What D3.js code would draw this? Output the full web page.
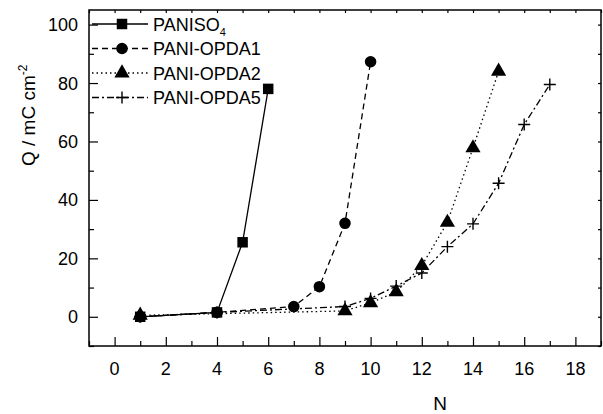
<!DOCTYPE html>
<html>
<head>
<meta charset="utf-8">
<script src="https://cdn.jsdelivr.net/npm/d3@7"></script>
<style>
    body { margin: 0; background: #fff; }
    svg text { font-family: Arial, "Liberation Sans", sans-serif; fill: #000; }
</style>
</head>
<body>
<div id="chart"></div>
<script>
'use strict';

// Values.
var nPaniso4 = [1, 4, 5, 6],
    qPaniso4 = [0, 1.5, 25.5, 78];

var nOpda1 = [1, 4, 7, 8, 9, 10],
    qOpda1 = [0, 1.5, 3.5, 10.3, 32, 87.3];

var nOpda2 = [1, 9, 10, 11, 12, 13, 14, 15],
    qOpda2 = [0.5, 2, 4.8, 8.5, 17.5, 32.3, 57.8, 84];

var nOpda5 = [1, 4, 9, 10, 11, 12, 13, 14, 15, 16, 17],
    qOpda5 = [0, 1.5, 3.5, 6.3, 10.5, 15, 24, 31.8, 45.7, 65.8, 79.5];

var xTicks = [0, 2, 4, 6, 8, 10, 12, 14, 16, 18],
    yTicks = [0, 20, 40, 60, 80, 100];

var series = [
    {name: 'PANISO', sub: '4', n: nPaniso4, q: qPaniso4, dash: null, marker: 'square'},
    {name: 'PANI-OPDA1', sub: null, n: nOpda1, q: qOpda1, dash: '6,4', marker: 'circle'},
    {name: 'PANI-OPDA2', sub: null, n: nOpda2, q: qOpda2, dash: '1.5,3', marker: 'triangle'},
    {name: 'PANI-OPDA5', sub: null, n: nOpda5, q: qOpda5, dash: '7,3,2,3', marker: 'plus'}
];

var width  = 603,
    height = 414,
    frame  = {left: 89, right: 601, top: 10, bottom: 346};

var svg = d3.select('#chart').append('svg')
    .attr('width', width)
    .attr('height', height);

var x = d3.scaleLinear().domain([-1, 19]).range([frame.left, frame.right]),
    y = d3.scaleLinear().domain([-10, 105]).range([frame.bottom, frame.top]);

// Ticks point inwards; minor ones in between the labelled ones.
var xMinor = d3.range(-1, 20, 1).filter(function (d) { return xTicks.indexOf(d) < 0; }),
    yMinor = d3.range(-10, 106, 10).filter(function (d) { return yTicks.indexOf(d) < 0; });

function axis(gen, scale, values, size, transform) {
    svg.append('g')
        .attr('transform', transform)
        .call(gen(scale).tickValues(values).tickSize(size).tickFormat(''))
        .call(function (g) {
            g.select('.domain').remove();
            g.selectAll('line').attr('stroke', '#000').attr('stroke-width', 1.2);
        });
}

axis(d3.axisBottom, x, xTicks, -9, 'translate(0,' + frame.bottom + ')');
axis(d3.axisBottom, x, xMinor, -5, 'translate(0,' + frame.bottom + ')');
axis(d3.axisLeft, y, yTicks, -9, 'translate(' + frame.left + ',0)');
axis(d3.axisLeft, y, yMinor, -5, 'translate(' + frame.left + ',0)');
// Mirrored short ticks on top and right.
axis(d3.axisTop, x, xTicks.concat(xMinor), -3, 'translate(0,' + frame.top + ')');
axis(d3.axisRight, y, yTicks.concat(yMinor), -3, 'translate(' + frame.right + ',0)');

svg.append('rect')
    .attr('x', frame.left)
    .attr('y', frame.top)
    .attr('width', frame.right - frame.left)
    .attr('height', frame.bottom - frame.top)
    .attr('fill', 'none')
    .attr('stroke', '#000')
    .attr('stroke-width', 1.5);

// Tick labels.
svg.append('g').selectAll('text')
    .data(xTicks)
    .enter().append('text')
    .attr('x', function (d) { return x(d); })
    .attr('y', frame.bottom + 29)
    .attr('text-anchor', 'middle')
    .style('font-size', '18px')
    .text(function (d) { return d; });

svg.append('g').selectAll('text')
    .data(yTicks)
    .enter().append('text')
    .attr('x', frame.left - 11)
    .attr('y', function (d) { return y(d) + 6.5; })
    .attr('text-anchor', 'end')
    .style('font-size', '18px')
    .text(function (d) { return d; });

// Axis titles.
svg.append('text')
    .attr('x', 440)
    .attr('y', 410)
    .attr('text-anchor', 'middle')
    .style('font-size', '19px')
    .text('N');

var yTitle = svg.append('text')
    .attr('transform', 'translate(35,166) rotate(-90)')
    .style('font-size', '19px');
yTitle.append('tspan').text('Q / mC cm');
yTitle.append('tspan').attr('dy', -8).style('font-size', '12px').text('-2');

var symbols = {
    square:   d3.symbol().type(d3.symbolSquare).size(110),
    circle:   d3.symbol().type(d3.symbolCircle).size(105),
    triangle: d3.symbol().type(d3.symbolTriangle).size(100)
};

function drawMarker(g, kind, cx, cy) {
    if (kind === 'plus') {
        g.append('path')
            .attr('d', 'M' + (cx - 6) + ',' + cy + 'H' + (cx + 6) + 'M' + cx + ',' + (cy - 6) + 'V' + (cy + 6))
            .attr('stroke', '#000')
            .attr('stroke-width', 1.4)
            .attr('fill', 'none');
        return;
    }
    g.append('path')
        .attr('d', symbols[kind]())
        .attr('transform', 'translate(' + cx + ',' + cy + ')')
        .attr('fill', '#000');
}

var line = d3.line()
    .x(function (d) { return x(d[0]); })
    .y(function (d) { return y(d[1]); });

series.forEach(function (s) {
    var pts = s.n.map(function (n, i) { return [n, s.q[i]]; }),
        g = svg.append('g');

    g.append('path')
        .attr('d', line(pts))
        .attr('fill', 'none')
        .attr('stroke', '#000')
        .attr('stroke-width', 1.3)
        .attr('stroke-dasharray', s.dash);

    pts.forEach(function (p) {
        drawMarker(g, s.marker, x(p[0]), y(p[1]));
    });
});

// Legend, top left inside the frame.
series.forEach(function (s, i) {
    var ly = 24 + i * 24.5,
        g = svg.append('g');

    g.append('line')
        .attr('x1', 92).attr('x2', 148)
        .attr('y1', ly).attr('y2', ly)
        .attr('stroke', '#000')
        .attr('stroke-width', 1.3)
        .attr('stroke-dasharray', s.dash);

    drawMarker(g, s.marker, 122, ly);

    var t = g.append('text')
        .attr('x', 153)
        .attr('y', ly + 6.5)
        .style('font-size', '18px')
        .text(s.name);

    if (s.sub) {
        t.append('tspan').attr('dy', 5).style('font-size', '11px').text(s.sub);
    }
});
</script>
</body>
</html>
